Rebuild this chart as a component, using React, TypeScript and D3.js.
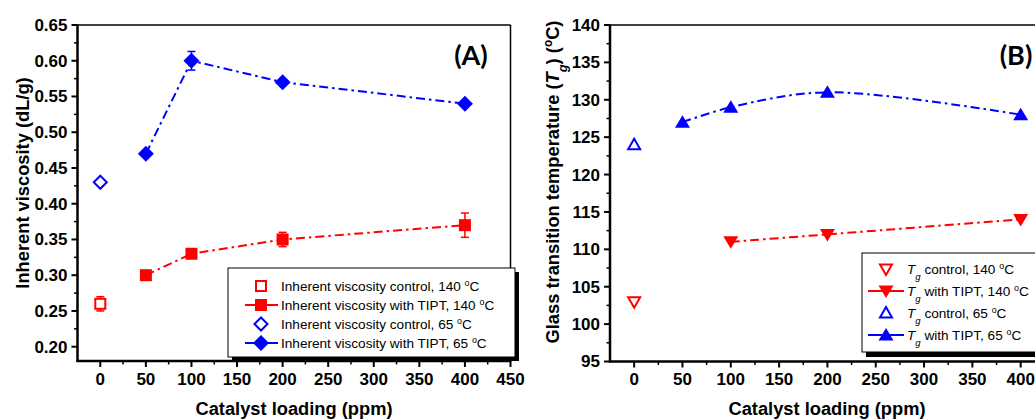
import React from "react";
import * as d3 from "d3";

// ---------- data ----------
const xTicks = [0, 50, 100, 150, 200, 250, 300, 350, 400, 450];
const xTicksB = [0, 50, 100, 150, 200, 250, 300, 350, 400, 450];
const yTicksA = [0.2, 0.25, 0.3, 0.35, 0.4, 0.45, 0.5, 0.55, 0.6, 0.65];
const yTicksB = [95, 100, 105, 110, 115, 120, 125, 130, 135, 140];

// Panel A: inherent viscosity
const ivControl140 = [{ x: 0, y: 0.26, e: 0.01 }];
const ivTipt140 = [
  { x: 50, y: 0.3, e: 0.004 },
  { x: 100, y: 0.33, e: 0.004 },
  { x: 200, y: 0.35, e: 0.01 },
  { x: 400, y: 0.37, e: 0.017 },
];
const ivControl65 = [{ x: 0, y: 0.43, e: 0 }];
const ivTipt65 = [
  { x: 50, y: 0.47, e: 0 },
  { x: 100, y: 0.6, e: 0.013 },
  { x: 200, y: 0.57, e: 0 },
  { x: 400, y: 0.54, e: 0 },
];

// Panel B: glass transition temperature
const tgControl140 = [{ x: 0, y: 103 }];
const tgTipt140 = [
  { x: 100, y: 111 },
  { x: 200, y: 112 },
  { x: 400, y: 114 },
];
const tgControl65 = [{ x: 0, y: 124 }];
const tgTipt65 = [
  { x: 50, y: 127 },
  { x: 100, y: 129 },
  { x: 200, y: 131 },
  { x: 400, y: 128 },
];

const RED = "#ff0000";
const BLUE = "#0000ff";
const FONT = "'Liberation Sans', Arial, sans-serif";
const DASH = "9,4,2.5,4";
const TICK_FS = 17;
const TITLE_FS = 18.3;

type Pt = { x: number; y: number; e?: number };

function Marker({ type, cx, cy, color }: { type: string; cx: number; cy: number; color: string }) {
  switch (type) {
    case "sqOpen":
      return <rect x={cx - 5} y={cy - 5} width={10} height={10} fill="white" stroke={color} strokeWidth={2} />;
    case "sqFill":
      return <rect x={cx - 6} y={cy - 6} width={12} height={12} fill={color} />;
    case "diaOpen":
      return <path d={`M${cx},${cy - 6.5}L${cx + 6.5},${cy}L${cx},${cy + 6.5}L${cx - 6.5},${cy}Z`} fill="white" stroke={color} strokeWidth={2} />;
    case "diaFill":
      return <path d={`M${cx},${cy - 8}L${cx + 8},${cy}L${cx},${cy + 8}L${cx - 8},${cy}Z`} fill={color} />;
    case "triDownOpen":
      return <path d={`M${cx - 6},${cy - 4.5}L${cx + 6},${cy - 4.5}L${cx},${cy + 6}Z`} fill="white" stroke={color} strokeWidth={2} strokeLinejoin="miter" />;
    case "triDownFill":
      return <path d={`M${cx - 7.5},${cy - 5.5}L${cx + 7.5},${cy - 5.5}L${cx},${cy + 7}Z`} fill={color} />;
    case "triUpOpen":
      return <path d={`M${cx - 6},${cy + 4.5}L${cx + 6},${cy + 4.5}L${cx},${cy - 6}Z`} fill="white" stroke={color} strokeWidth={2} strokeLinejoin="miter" />;
    case "triUpFill":
      return <path d={`M${cx - 7.5},${cy + 5.5}L${cx + 7.5},${cy + 5.5}L${cx},${cy - 7}Z`} fill={color} />;
  }
  return null;
}

function Sup({ children }: { children: React.ReactNode }) {
  return (
    <tspan baselineShift="super" fontSize="0.65em">
      {children}
    </tspan>
  );
}

function Axes({
  x,
  y,
  xt,
  yt,
  xMinor,
  yMinor,
  yFmt,
}: {
  x: d3.ScaleLinear<number, number>;
  y: d3.ScaleLinear<number, number>;
  xt: number[];
  yt: number[];
  xMinor: number[];
  yMinor: number[];
  yFmt: (v: number) => string;
}) {
  const [x0, x1] = x.range();
  const [y0, y1] = y.range();
  return (
    <g>
      <line x1={x0} x2={x1} y1={y1} y2={y1} stroke="black" strokeWidth={1.5} />
      <line x1={x1} x2={x1} y1={y1} y2={y0} stroke="black" strokeWidth={1.5} />
      <line x1={x0} x2={x0} y1={y1 - 0.5} y2={y0 + 1} stroke="black" strokeWidth={2.5} />
      <line x1={x0 - 1} x2={x1 + 0.75} y1={y0} y2={y0} stroke="black" strokeWidth={2.5} />
      {yt.map((v) => (
        <g key={"y" + v}>
          <line x1={x0 - 6} x2={x0} y1={y(v)} y2={y(v)} stroke="black" strokeWidth={2} />
          <text x={x0 - 10} y={y(v)} dy="0.35em" textAnchor="end" fontFamily={FONT} fontWeight="bold" fontSize={TICK_FS}>
            {yFmt(v)}
          </text>
        </g>
      ))}
      {yMinor.map((v) => (
        <line key={"ym" + v} x1={x0 - 3.5} x2={x0} y1={y(v)} y2={y(v)} stroke="black" strokeWidth={1.5} />
      ))}
      {xt.map((v) => (
        <g key={"x" + v}>
          <line x1={x(v)} x2={x(v)} y1={y0} y2={y0 + 6} stroke="black" strokeWidth={2} />
          <text x={x(v)} y={y0 + 23.5} textAnchor="middle" fontFamily={FONT} fontWeight="bold" fontSize={TICK_FS}>
            {v}
          </text>
        </g>
      ))}
      {xMinor.map((v) => (
        <line key={"xm" + v} x1={x(v)} x2={x(v)} y1={y0} y2={y0 + 3.5} stroke="black" strokeWidth={1.5} />
      ))}
    </g>
  );
}

function ErrorBars({ data, x, y, color }: { data: Pt[]; x: any; y: any; color: string }) {
  return (
    <g>
      {data
        .filter((d) => d.e && d.e > 0)
        .map((d, i) => (
          <g key={i} stroke={color} strokeWidth={1.5}>
            <line x1={x(d.x)} x2={x(d.x)} y1={y(d.y - d.e!)} y2={y(d.y + d.e!)} />
            <line x1={x(d.x) - 4} x2={x(d.x) + 4} y1={y(d.y - d.e!)} y2={y(d.y - d.e!)} />
            <line x1={x(d.x) - 4} x2={x(d.x) + 4} y1={y(d.y + d.e!)} y2={y(d.y + d.e!)} />
          </g>
        ))}
    </g>
  );
}

function Tg() {
  return (
    <>
      <tspan fontStyle="italic">T</tspan>
      <tspan baselineShift="sub" fontSize="0.7em" fontStyle="italic">g</tspan>
    </>
  );
}

export default function App() {
  const xA = d3.scaleLinear().domain([-25, 450]).range([77.5, 510.5]);
  const yA = d3.scaleLinear().domain([0.18, 0.65]).range([361, 25]);
  const xB = d3.scaleLinear().domain([-25, 450]).range([610, 1069]);
  const yB = d3.scaleLinear().domain([95, 140]).range([361.5, 25]);

  const xMinor = d3.range(-25, 451, 25).filter((v) => v % 50 !== 0 && v > -25);
  const yMinorA = d3.range(0.175, 0.651, 0.025).filter((v) => Math.round(v * 1000) % 50 !== 0 && v > 0.18);
  const yMinorB = d3.range(97.5, 140, 5);

  const lineA = d3
    .line<Pt>()
    .x((d) => xA(d.x))
    .y((d) => yA(d.y));
  const lineB = d3
    .line<Pt>()
    .x((d) => xB(d.x))
    .y((d) => yB(d.y))
    .curve(d3.curveCatmullRom.alpha(0.5));

  const legendA = [
    { m: "sqOpen", c: RED, line: false, label: <>Inherent viscosity control, 140 <Sup>o</Sup>C</> },
    { m: "sqFill", c: RED, line: true, label: <>Inherent viscosity with TIPT, 140 <Sup>o</Sup>C</> },
    { m: "diaOpen", c: BLUE, line: false, label: <>Inherent viscosity control, 65 <Sup>o</Sup>C</> },
    { m: "diaFill", c: BLUE, line: true, label: <>Inherent viscosity with TIPT, 65 <Sup>o</Sup>C</> },
  ];
  const legendB = [
    { m: "triDownOpen", c: RED, line: false, label: <><Tg /> control, 140 <Sup>o</Sup>C</> },
    { m: "triDownFill", c: RED, line: true, label: <><Tg /> with TIPT, 140 <Sup>o</Sup>C</> },
    { m: "triUpOpen", c: BLUE, line: false, label: <><Tg /> control, 65 <Sup>o</Sup>C</> },
    { m: "triUpFill", c: BLUE, line: true, label: <><Tg /> with TIPT, 65 <Sup>o</Sup>C</> },
  ];

  const legAx = 228, legAy = 268, legAw = 287, legAh = 89;
  const legBx = 862, legBy = 253, legBw = 200, legBh = 99;
  const rowA = [286, 305, 324, 343];
  const rowB = [269, 291, 313, 335];

  return (
    <svg width={1035} height={419} style={{ position: "absolute", left: 0, top: 0, background: "white" }}>
      <rect x={0} y={0} width={1035} height={419} fill="white" />

      {/* ---------------- Panel A ---------------- */}
      <Axes x={xA} y={yA} xt={xTicks} yt={yTicksA} xMinor={xMinor} yMinor={yMinorA} yFmt={(v) => v.toFixed(2)} />
      <text x={471} y={65} textAnchor="middle" fontFamily="Lato, 'Open Sans', sans-serif" fontWeight="bold" fontSize={27}>
        (A)
      </text>

      <path d={lineA(ivTipt140)!} fill="none" stroke={RED} strokeWidth={2} strokeDasharray={DASH} />
      <path d={lineA(ivTipt65)!} fill="none" stroke={BLUE} strokeWidth={2} strokeDasharray={DASH} />
      <ErrorBars data={ivControl140} x={xA} y={yA} color={RED} />
      <ErrorBars data={ivTipt140} x={xA} y={yA} color={RED} />
      <ErrorBars data={ivTipt65} x={xA} y={yA} color={BLUE} />
      {ivControl140.map((d, i) => <Marker key={"a1" + i} type="sqOpen" cx={xA(d.x)} cy={yA(d.y)} color={RED} />)}
      {ivTipt140.map((d, i) => <Marker key={"a2" + i} type="sqFill" cx={xA(d.x)} cy={yA(d.y)} color={RED} />)}
      {ivControl65.map((d, i) => <Marker key={"a3" + i} type="diaOpen" cx={xA(d.x)} cy={yA(d.y)} color={BLUE} />)}
      {ivTipt65.map((d, i) => <Marker key={"a4" + i} type="diaFill" cx={xA(d.x)} cy={yA(d.y)} color={BLUE} />)}

      <rect x={legAx + 4} y={legAy + 4} width={legAw} height={legAh} fill="black" />
      <rect x={legAx} y={legAy} width={legAw} height={legAh} fill="white" stroke="black" strokeWidth={1} />
      {legendA.map((l, i) => (
        <g key={"la" + i}>
          {l.line && <line x1={245} x2={278} y1={rowA[i]} y2={rowA[i]} stroke={l.c} strokeWidth={2} />}
          <Marker type={l.m} cx={261} cy={rowA[i]} color={l.c} />
          <text x={281} y={rowA[i]} dy="0.35em" fontFamily={FONT} fontSize={13.6}>
            {l.label}
          </text>
        </g>
      ))}

      <text transform={`translate(29,183) rotate(-90)`} textAnchor="middle" fontFamily={FONT} fontWeight="bold" fontSize={TITLE_FS}>
        Inherent viscosity (dL/g)
      </text>
      <text x={294} y={415} textAnchor="middle" fontFamily={FONT} fontWeight="bold" fontSize={TITLE_FS}>
        Catalyst loading (ppm)
      </text>

      {/* ---------------- Panel B ---------------- */}
      <Axes x={xB} y={yB} xt={xTicksB} yt={yTicksB} xMinor={xMinor} yMinor={yMinorB} yFmt={(v) => String(v)} />
      <text x={1016} y={65} textAnchor="middle" fontFamily="Lato, 'Open Sans', sans-serif" fontWeight="bold" fontSize={27}>
        (B)
      </text>

      <path d={lineB(tgTipt140)!} fill="none" stroke={RED} strokeWidth={2} strokeDasharray={DASH} />
      <path d={lineB(tgTipt65)!} fill="none" stroke={BLUE} strokeWidth={2} strokeDasharray={DASH} />
      {tgControl140.map((d, i) => <Marker key={"b1" + i} type="triDownOpen" cx={xB(d.x)} cy={yB(d.y)} color={RED} />)}
      {tgTipt140.map((d, i) => <Marker key={"b2" + i} type="triDownFill" cx={xB(d.x)} cy={yB(d.y)} color={RED} />)}
      {tgControl65.map((d, i) => <Marker key={"b3" + i} type="triUpOpen" cx={xB(d.x)} cy={yB(d.y)} color={BLUE} />)}
      {tgTipt65.map((d, i) => <Marker key={"b4" + i} type="triUpFill" cx={xB(d.x)} cy={yB(d.y)} color={BLUE} />)}

      <rect x={legBx + 4} y={legBy + 5} width={legBw} height={legBh} fill="black" />
      <rect x={legBx} y={legBy} width={legBw} height={legBh} fill="white" stroke="black" strokeWidth={1} />
      {legendB.map((l, i) => (
        <g key={"lb" + i}>
          {l.line && <line x1={868} x2={904} y1={rowB[i]} y2={rowB[i]} stroke={l.c} strokeWidth={2} />}
          <Marker type={l.m} cx={886} cy={rowB[i]} color={l.c} />
          <text x={907} y={rowB[i]} dy="0.35em" fontFamily={FONT} fontSize={13.6}>
            {l.label}
          </text>
        </g>
      ))}

      <text transform={`translate(559,182) rotate(-90)`} textAnchor="middle" fontFamily={FONT} fontWeight="bold" fontSize={TITLE_FS}>
        Glass transition temperature (<Tg />) (<Sup>o</Sup>C)
      </text>
      <text x={827} y={415} textAnchor="middle" fontFamily={FONT} fontWeight="bold" fontSize={TITLE_FS}>
        Catalyst loading (ppm)
      </text>
    </svg>
  );
}
